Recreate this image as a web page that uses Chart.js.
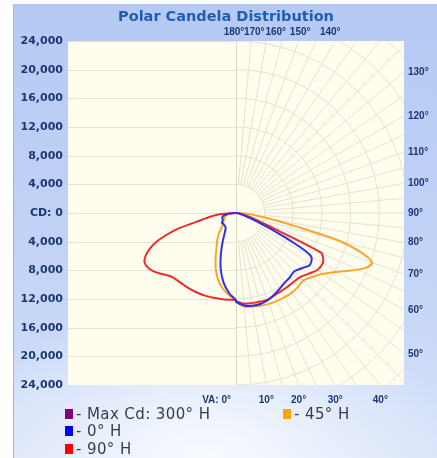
<!DOCTYPE html>
<html>
<head>
<meta charset="utf-8">
<script src="https://cdn.jsdelivr.net/npm/chart.js@4"></script>
<style>
  html, body { margin: 0; padding: 0; background: #fff; }
  #frame {
    position: absolute; left: 13px; top: 4px; width: 424px; height: 454px;
    border-left: 1px solid #9fb5e6; border-top: 1px solid #b3c6ef;
    background:
      radial-gradient(ellipse 60% 35% at 45% 100%, rgba(250,252,255,0.95) 0%, rgba(250,252,255,0) 100%),
      linear-gradient(to bottom, #b5c9f3 0%, #c3d4f6 60%, #d9e4fa 100%);
  }
  #wrap { position: absolute; left: 0; top: 0; width: 437px; height: 458px; }
  #legend {
    position: absolute; left: 65px; top: 405px;
    display: grid; grid-auto-flow: column;
    grid-template-rows: repeat(3, 17.5px); grid-template-columns: 218px auto;
    font: 15px "DejaVu Sans", sans-serif; letter-spacing: 0.4px; color: #3b3b4c;
  }
  #legend .item { display: flex; align-items: center; white-space: nowrap; }
  #legend .box { width: 8px; height: 10px; margin-right: 3px; }
</style>
</head>
<body>
<div id="frame"></div>
<div id="wrap"><canvas id="polar" width="437" height="458"></canvas></div>
<div id="legend"></div>
<script>
// vertical angles (0 = straight down, 90 = horizontal)
const vaAngles = [0, 5, 10, 15, 20, 25, 30, 35, 40, 45, 50, 55, 60, 62.5, 65, 67.5, 70, 72.5, 75, 77.5, 80, 85, 90];

// candela per vertical angle, right half (H) and left half (H + 180)
const cd0H   = [12400, 12950, 13150, 13150, 12950, 12600, 12200, 11850, 11700, 11500, 12000, 12600, 12100, 9300, 5800, 3300, 2000, 1300, 900, 600, 400, 200, 0];
const cd180H = [12200, 11200, 9900, 8200, 6200, 4400, 3100, 2500, 2400, 2350, 2350, 2400, 2150, 2100, 2050, 2050, 2050, 2000, 1950, 1800, 1500, 900, 0];
const cd90H  = [12300, 12700, 12770, 12820, 12880, 12700, 12600, 12560, 12530, 12650, 13200, 13870, 14000, 13700, 13100, 6300, 3800, 2500, 1700, 1100, 700, 300, 0];
const cd270H = [12140, 12140, 12180, 12250, 12310, 12350, 12390, 12400, 12450, 12630, 13300, 14150, 14550, 14400, 13850, 13000, 11900, 10200, 8300, 5600, 4300, 2500, 500];
const cd45H  = [12400, 13100, 13250, 13400, 13500, 13530, 13560, 13580, 13450, 13300, 13900, 14800, 16400, 17500, 18700, 19800, 20200, 18300, 14700, 8600, 5000, 2000, 400];
const cd225H = [12250, 11500, 10700, 9650, 8270, 6700, 5400, 4550, 3700, 2800, 2400, 2150, 1950, 1850, 1800, 1700, 1650, 1550, 1450, 1350, 1250, 1000, 600];

const seriesLabels = ['- Max Cd: 300\u00b0 H', '- 0\u00b0 H', '- 90\u00b0 H', '- 45\u00b0 H'];
const seriesColors = ['#7b1a7e', '#2f2fe6', '#ee2b2b', '#f7a82c'];
const legendColors = ['#800080', '#0000ff', '#ff0000', '#ffa500'];

// axis labels
const cdLevels = [-24000, -20000, -16000, -12000, -8000, -4000, 0, 4000, 8000, 12000, 16000, 20000, 24000];
const topAngles = [180, 170, 160, 150, 140];
const rightAngles = [130, 120, 110, 100, 90, 80, 70, 60, 50];
const bottomAngles = [0, 10, 20, 30, 40];
const ringStep = 4000;
const spokeStep = 5;
const xHalf = 23440;

const rad = (d) => d * Math.PI / 180;

function curve(leftCd, rightCd) {
  const pts = [];
  for (let i = vaAngles.length - 1; i >= 0; i--) {
    const a = rad(vaAngles[i]);
    pts.push({ x: -leftCd[i] * Math.sin(a), y: -leftCd[i] * Math.cos(a) });
  }
  for (let i = 0; i < vaAngles.length; i++) {
    const a = rad(vaAngles[i]);
    pts.push({ x: rightCd[i] * Math.sin(a), y: -rightCd[i] * Math.cos(a) });
  }
  pts.push({ x: pts[0].x, y: pts[0].y });
  return pts;
}

const curves = [[], curve(cd180H, cd0H), curve(cd270H, cd90H), curve(cd225H, cd45H)];

const gridColor = '#e5e2d3';
const labelColor = '#1c3774';
const smallFont = 'bold 10px "Liberation Sans", Arial, sans-serif';

const polarGrid = {
  id: 'polarGrid',
  beforeDraw(chart) {
    const { ctx, chartArea: a } = chart;
    ctx.save();
    ctx.fillStyle = '#fffdee';
    ctx.fillRect(a.left, a.top, a.right - a.left, a.bottom - a.top);
    ctx.restore();
  },
  beforeDatasetsDraw(chart) {
    const { ctx, chartArea: a, scales: { x, y } } = chart;
    const cx = x.getPixelForValue(0), cy = y.getPixelForValue(0);
    const pxPer = x.getPixelForValue(ringStep) - cx;
    ctx.save();
    ctx.strokeStyle = gridColor;
    ctx.lineWidth = 1;

    // left half: straight levels
    ctx.save();
    ctx.beginPath();
    ctx.rect(a.left, a.top, cx - a.left, a.bottom - a.top);
    ctx.clip();
    cdLevels.forEach(v => {
      const py = Math.round(y.getPixelForValue(v)) + 0.5;
      ctx.beginPath(); ctx.moveTo(a.left, py); ctx.lineTo(cx, py); ctx.stroke();
    });
    ctx.restore();

    // right half: rings and spokes
    ctx.save();
    ctx.beginPath();
    ctx.rect(cx, a.top, a.right - cx, a.bottom - a.top);
    ctx.clip();
    for (let k = 1; k <= 9; k++) {
      ctx.beginPath();
      ctx.arc(cx, cy, k * pxPer, -Math.PI / 2, Math.PI / 2);
      ctx.stroke();
    }
    for (let va = spokeStep; va < 180; va += spokeStep) {
      const s = Math.sin(rad(va)), c = Math.cos(rad(va));
      ctx.beginPath();
      ctx.moveTo(x.getPixelForValue(ringStep * s), y.getPixelForValue(-ringStep * c));
      ctx.lineTo(x.getPixelForValue(60000 * s), y.getPixelForValue(-60000 * c));
      ctx.stroke();
    }
    ctx.restore();

    // vertical axis line
    const vx = Math.round(cx) + 0.5;
    ctx.strokeStyle = '#dcd9c8';
    ctx.beginPath(); ctx.moveTo(vx, a.top); ctx.lineTo(vx, a.bottom); ctx.stroke();
    ctx.restore();
  },
  afterDraw(chart) {
    const { ctx, chartArea: a, scales: { x, y } } = chart;
    ctx.save();
    // title
    ctx.fillStyle = '#1f5fb3';
    ctx.font = 'bold 14.5px "DejaVu Sans", sans-serif';
    ctx.textAlign = 'center';
    ctx.textBaseline = 'alphabetic';
    ctx.fillText('Polar Candela Distribution', 226, 21);

    ctx.fillStyle = labelColor;
    ctx.font = smallFont;
    // top: where the spoke crosses the 16,000 level
    ctx.textAlign = 'center';
    topAngles.forEach(va => {
      const t = Math.tan(rad(180 - va));
      ctx.fillText(va + '\u00b0', x.getPixelForValue(16000 * t) - 2, a.top - 6);
    });
    // right edge crossings
    ctx.textAlign = 'left';
    ctx.textBaseline = 'middle';
    rightAngles.forEach(va => {
      const yv = -xHalf / Math.tan(rad(va));
      ctx.fillText(va + '\u00b0', a.right + 4, y.getPixelForValue(yv));
    });
    // bottom edge crossings
    ctx.textAlign = 'center';
    bottomAngles.forEach(va => {
      const px = x.getPixelForValue(24000 * Math.tan(rad(va)));
      if (va === 0) {
        ctx.textAlign = 'right';
        ctx.fillText('VA: 0\u00b0', px - 5, a.bottom + 15);
        ctx.textAlign = 'center';
      } else {
        ctx.fillText(va + '\u00b0', px, a.bottom + 15);
      }
    });
    ctx.restore();
  }
};

const chart = new Chart(document.getElementById('polar'), {
  type: 'scatter',
  data: {
    datasets: seriesLabels.map((label, i) => ({
      label,
      data: curves[i],
      showLine: true,
      borderColor: seriesColors[i],
      backgroundColor: legendColors[i],
      borderWidth: 2,
      pointRadius: 0,
      tension: 0.3,
      fill: false
    }))
  },
  options: {
    responsive: false,
    animation: false,
    layout: { padding: { top: 41, right: 33, bottom: 73, left: 0 } },
    plugins: { legend: { display: false }, tooltip: { enabled: false }, title: { display: false } },
    scales: {
      x: { type: 'linear', min: -xHalf, max: xHalf, display: false },
      y: {
        type: 'linear', min: -24000, max: 24000,
        afterBuildTicks: (axis) => { axis.ticks = cdLevels.map(v => ({ value: v })); },
        afterFit: (axis) => { axis.width = 68; },
        grid: { display: false, drawTicks: false },
        border: { display: false },
        ticks: {
          padding: 5,
          color: labelColor,
          font: { family: '"DejaVu Sans", sans-serif', size: 11, weight: 'bold' },
          callback: (v) => v === 0 ? 'CD: 0' : Math.abs(v).toLocaleString('en-US')
        }
      }
    }
  },
  plugins: [polarGrid]
});

// legend: column-major, three rows
const legend = document.getElementById('legend');
chart.data.datasets.forEach((ds) => {
  const item = document.createElement('div');
  item.className = 'item';
  const box = document.createElement('span');
  box.className = 'box';
  box.style.background = ds.backgroundColor;
  const txt = document.createElement('span');
  txt.textContent = ds.label;
  item.appendChild(box);
  item.appendChild(txt);
  legend.appendChild(item);
});
</script>
</body>
</html>
